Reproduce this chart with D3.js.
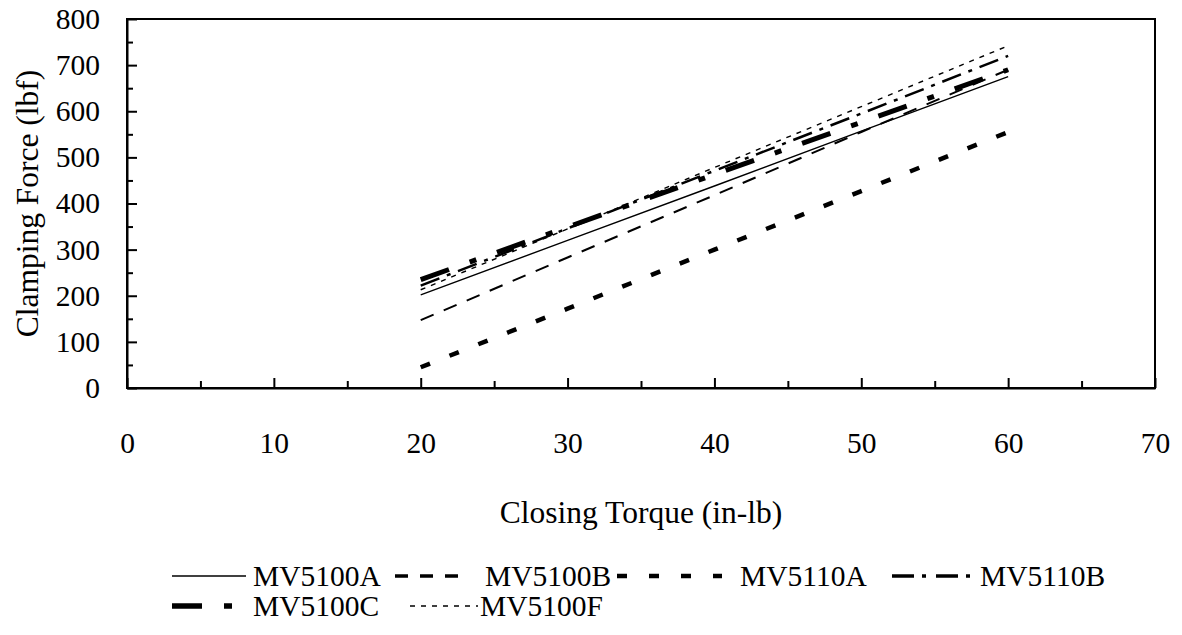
<!DOCTYPE html>
<html>
<head>
<meta charset="utf-8">
<script src="https://cdn.jsdelivr.net/npm/d3@7"></script>
<style>
  html, body { margin: 0; padding: 0; background: #fff; }
  svg { display: block; font-family: "Liberation Serif", "Times New Roman", serif; }
</style>
</head>
<body>
<svg id="chart" width="1182" height="635"></svg>
<script>
// ---- data ----
const torque = [20, 30, 40, 50, 60];
const seriesNames = ["MV5100A", "MV5100B", "MV5110A", "MV5110B", "MV5100C", "MV5100F"];
const mv5100A = [202, 320, 438, 557, 675];
const mv5100B = [147, 283, 418, 555, 690];
const mv5110A = [45, 172, 300, 427, 555];
const mv5110B = [222, 346, 471, 595, 720];
const mv5100C = [235, 349, 463, 576, 690];
const mv5100F = [213, 345, 478, 610, 742];
const xTicks = [0, 10, 20, 30, 40, 50, 60, 70];
const yTicks = [0, 100, 200, 300, 400, 500, 600, 700, 800];
const xTitle = "Closing Torque (in-lb)";
const yTitle = "Clamping Force (lbf)";

const seriesValues = [mv5100A, mv5100B, mv5110A, mv5110B, mv5100C, mv5100F];

// ---- styles (not data) ----
const styles = {
  "MV5100A": { w: 1.4, lw: 1.4, dash: null, ldash: null },
  "MV5100B": { w: 2, lw: 3.5, dash: "14,11", ldash: "13,12" },
  "MV5110A": { w: 4.5, lw: 4.5, dash: "10,21", ldash: "10,22" },
  "MV5110B": { w: 2.5, lw: 3.5, dash: "20,8,4,8", ldash: "22,8,4,10" },
  "MV5100C": { w: 5, lw: 5.5, dash: "30,22,7,22", ldash: "30,22,8,22" },
  "MV5100F": { w: 1.4, lw: 1.4, dash: "5,6", ldash: "5,6" }
};

const svg = d3.select("#chart");
const m = { left: 127, right: 1155, top: 19, bottom: 388 };
const fontSize = 29.5;
const titleSize = 31.5;

const x = d3.scaleLinear().domain([0, 70]).range([m.left, m.right]);
const y = d3.scaleLinear().domain([0, 800]).range([m.bottom, m.top]);

// frame
svg.append("rect")
  .attr("x", m.left).attr("y", m.top)
  .attr("width", m.right - m.left).attr("height", m.bottom - m.top)
  .attr("fill", "none").attr("stroke", "#000").attr("stroke-width", 2);

// minor ticks
const xMinor = d3.range(5, 70, 10);
const yMinor = d3.range(50, 800, 100);
svg.append("g").attr("transform", `translate(0,${m.bottom})`)
  .call(d3.axisBottom(x).tickValues(xMinor).tickFormat("").tickSizeInner(-7).tickSizeOuter(0))
  .call(g => g.select(".domain").remove())
  .call(g => g.selectAll("line").attr("stroke-width", 2));
svg.append("g").attr("transform", `translate(${m.left},0)`)
  .call(d3.axisLeft(y).tickValues(yMinor).tickFormat("").tickSizeInner(-6).tickSizeOuter(0))
  .call(g => g.select(".domain").remove())
  .call(g => g.selectAll("line").attr("stroke-width", 2));

// major axes
const xAxis = svg.append("g").attr("transform", `translate(0,${m.bottom})`)
  .call(d3.axisBottom(x).tickValues(xTicks).tickFormat(d3.format("d")).tickSizeInner(-10).tickSizeOuter(0).tickPadding(44));
xAxis.select(".domain").attr("stroke-width", 2);
xAxis.selectAll("line").attr("stroke-width", 2);
xAxis.selectAll("text").attr("font-size", fontSize).attr("font-family", "Liberation Serif").attr("fill", "#000");

const yAxis = svg.append("g").attr("transform", `translate(${m.left},0)`)
  .call(d3.axisLeft(y).tickValues(yTicks).tickFormat(d3.format("d")).tickSizeInner(-10).tickSizeOuter(0).tickPadding(27));
yAxis.select(".domain").attr("stroke-width", 2);
yAxis.selectAll("line").attr("stroke-width", 2);
yAxis.selectAll("text").attr("font-size", fontSize).attr("font-family", "Liberation Serif").attr("fill", "#000");

// titles
svg.append("text")
  .attr("x", (m.left + m.right) / 2).attr("y", 512)
  .attr("text-anchor", "middle").attr("dominant-baseline", "central")
  .attr("font-size", titleSize).text(xTitle);
svg.append("text")
  .attr("transform", `translate(27,${(m.top + m.bottom) / 2}) rotate(-90)`)
  .attr("text-anchor", "middle").attr("dominant-baseline", "central")
  .attr("font-size", titleSize).text(yTitle);

// lines
const line = d3.line().x(d => x(d[0])).y(d => y(d[1]));
seriesNames.forEach((name, i) => {
  const pts = torque.map((t, j) => [t, seriesValues[i][j]]);
  const st = styles[name];
  svg.append("path")
    .datum(pts)
    .attr("d", line)
    .attr("fill", "none")
    .attr("stroke", "#000")
    .attr("stroke-width", st.w)
    .attr("stroke-dasharray", st.dash);
});

// legend layout
const legendLayout = {
  "MV5100A": { row: 0, x0: 172, x1: 246, tx: 253 },
  "MV5100B": { row: 0, x0: 395, x1: 470, tx: 485 },
  "MV5110A": { row: 0, x0: 617, x1: 722, tx: 740 },
  "MV5110B": { row: 0, x0: 892, x1: 970, tx: 980 },
  "MV5100C": { row: 1, x0: 172, x1: 234, tx: 253 },
  "MV5100F": { row: 1, x0: 410, x1: 478, tx: 480 }
};
const rowY = [576, 606];
const lg = svg.append("g");
seriesNames.forEach(name => {
  const L = legendLayout[name];
  const st = styles[name];
  const yy = rowY[L.row];
  lg.append("line")
    .attr("x1", L.x0).attr("x2", L.x1).attr("y1", yy).attr("y2", yy)
    .attr("stroke", "#000").attr("stroke-width", st.lw)
    .attr("stroke-dasharray", st.ldash);
  lg.append("text")
    .attr("x", L.tx).attr("y", yy)
    .attr("dominant-baseline", "central")
    .attr("font-size", fontSize).text(name);
});
</script>
</body>
</html>
